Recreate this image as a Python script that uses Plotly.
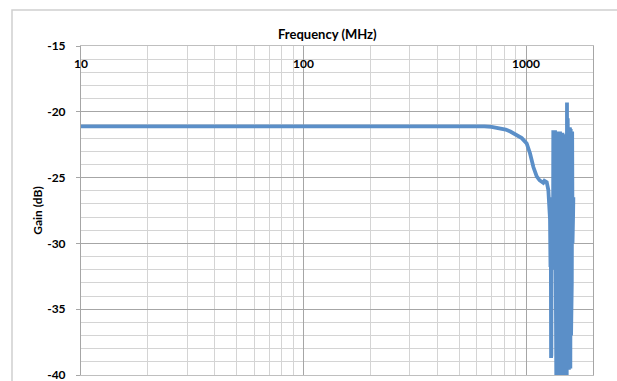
import math
import plotly.graph_objects as go

# Measured gain response (MHz, dB)
freq_mhz = [
    10, 12, 15, 20, 25, 30, 40, 50, 60, 70, 80, 100, 120, 150, 200, 250, 300,
    350, 400, 450, 500, 550, 600, 650, 700, 764, 810, 850, 877, 920, 957,
    1007, 1042, 1079, 1117, 1150, 1176, 1195, 1210, 1225, 1239, 1260, 1275,
    1282, 1288, 1292, 1296, 1300, 1304, 1310, 1316, 1322, 1326, 1332, 1338,
    1344, 1350, 1356, 1362, 1368, 1374, 1380, 1386, 1392, 1398, 1404, 1410,
    1416, 1422, 1428, 1434, 1440, 1446, 1452, 1458, 1464, 1470, 1476, 1482,
    1488, 1494, 1500, 1506, 1512, 1518, 1524, 1528, 1534, 1540, 1546, 1552,
    1558, 1564, 1570, 1576, 1582, 1588, 1594, 1600, 1606, 1612, 1618, 1624,
    1628, 1632,
]
gain_db = [
    -21.10, -21.10, -21.10, -21.10, -21.10, -21.10, -21.10, -21.09, -21.10,
    -21.10, -21.10, -21.10, -21.10, -21.10, -21.10, -21.10, -21.10, -21.10,
    -21.10, -21.10, -21.10, -21.08, -21.06, -21.10, -21.14, -21.25, -21.35,
    -21.50, -21.63, -21.80, -22.00, -22.40, -23.15, -24.20, -24.90, -25.20,
    -25.30, -25.40, -25.25, -25.35, -25.35, -25.95, -27.50, -28.20, -31.80,
    -27.50, -38.70, -38.50, -28.00, -32.00, -26.50, -31.50, -21.40, -32.00,
    -21.50, -31.00, -21.40, -32.50, -21.60, -40.50, -21.50, -36.00, -21.70,
    -40.50, -21.60, -38.00, -21.80, -40.50, -21.50, -35.00, -21.60, -40.50,
    -21.70, -34.20, -21.60, -33.00, -21.80, -40.50, -21.70, -36.00, -22.20,
    -40.50, -22.00, -38.00, -22.30, -40.50, -19.30, -37.50, -20.50, -36.50,
    -22.00, -39.60, -21.30, -38.50, -21.20, -39.50, -21.30, -37.00, -21.40,
    -33.00, -21.50, -30.00, -22.80, -27.80, -26.50,
]

# Axis ticks
x_range_mhz = [10, 2000]
x_major = [10, 100, 1000]
x_major_text = ["10", "100", "1000"]
x_minor = [20, 30, 40, 50, 60, 70, 80, 90, 200, 300, 400, 500, 600, 700,
           800, 900]
y_range = [-40, -15]
y_major = [-40, -35, -30, -25, -20, -15]
y_major_text = ["-40", "-35", "-30", "-25", "-20", "-15"]

LINE_BLUE = "#5b8fc8"
FONT = "Lato"
TICK_FONT = dict(family=FONT, size=12, color="#000", weight="bold")
TITLE_FONT = dict(family=FONT, size=12, color="#000", weight="bold")

x_log_range = [math.log10(v) for v in x_range_mhz]

fig = go.Figure()
fig.add_trace(go.Scatter(
    x=freq_mhz, y=gain_db, mode="lines",
    line=dict(color=LINE_BLUE, width=3.8),
    hoverinfo="x+y", showlegend=False,
))
# companion axis that carries the frequency labels just under the top edge
fig.add_trace(go.Scatter(x=[], y=[], xaxis="x2", showlegend=False,
                         hoverinfo="skip"))

fig.update_layout(
    xaxis=dict(
        type="log", range=x_log_range, side="top",
        tickmode="array", tickvals=x_major, showticklabels=False, ticks="",
        showgrid=True, gridcolor="#a6a6a6", gridwidth=1,
        minor=dict(tickmode="array", tickvals=x_minor, showgrid=True,
                   gridcolor="#d4d4d4", gridwidth=1),
        showline=True, linecolor="#bfbfbf", linewidth=1, mirror=True,
        zeroline=False, automargin=False,
    ),
    xaxis2=dict(
        type="log", range=x_log_range, overlaying="x", matches="x",
        anchor="free", position=1, side="bottom",
        tickmode="array", tickvals=x_major, ticktext=x_major_text,
        ticks="", tickfont=TICK_FONT, ticklabelstandoff=9,
        showgrid=False, showline=False, zeroline=False, automargin=False,
    ),
    yaxis=dict(
        range=y_range, tickmode="array", tickvals=y_major,
        ticktext=y_major_text,
        ticks="outside", ticklen=4, tickcolor="#a6a6a6",
        tickfont=TICK_FONT, ticklabeloverflow="allow", ticklabelstandoff=8,
        showgrid=True, gridcolor="#a6a6a6", gridwidth=1,
        minor=dict(dtick=1, showgrid=True, gridcolor="#d4d4d4", gridwidth=1),
        showline=True, linecolor="#a6a6a6", linewidth=1, mirror=True,
        zeroline=False, automargin=False,
        title=dict(text="Gain (dB)", standoff=1, font=TITLE_FONT),
    ),
)

# Frequency axis title, sitting above the plot area
fig.add_annotation(
    text="Frequency (MHz)", xref="paper", yref="paper",
    x=(327.5 - 81) / 512, y=(375 - 34) / 329,
    showarrow=False, xanchor="center", yanchor="middle",
    font=dict(family=FONT, size=13, color="#000", weight="bold"),
)

# Chart-area frame (only its top and left sides fall inside the page)
x0, x1 = (12 - 81) / 512, (640 - 81) / 512
y1, y0 = (375 - 10) / 329, (375 - 410) / 329
fig.add_shape(type="rect", x0=x0, x1=x1, y0=y0, y1=y1,
              xref="paper", yref="paper",
              line=dict(color="#d0d0d0", width=1.5), layer="below")

fig.update_layout(
    width=617, height=381,
    margin=dict(l=81, r=24, t=46, b=6),
    paper_bgcolor="white", plot_bgcolor="white",
    font=dict(family=FONT, size=12, color="#000"),
)

fig.write_html("out.html")
